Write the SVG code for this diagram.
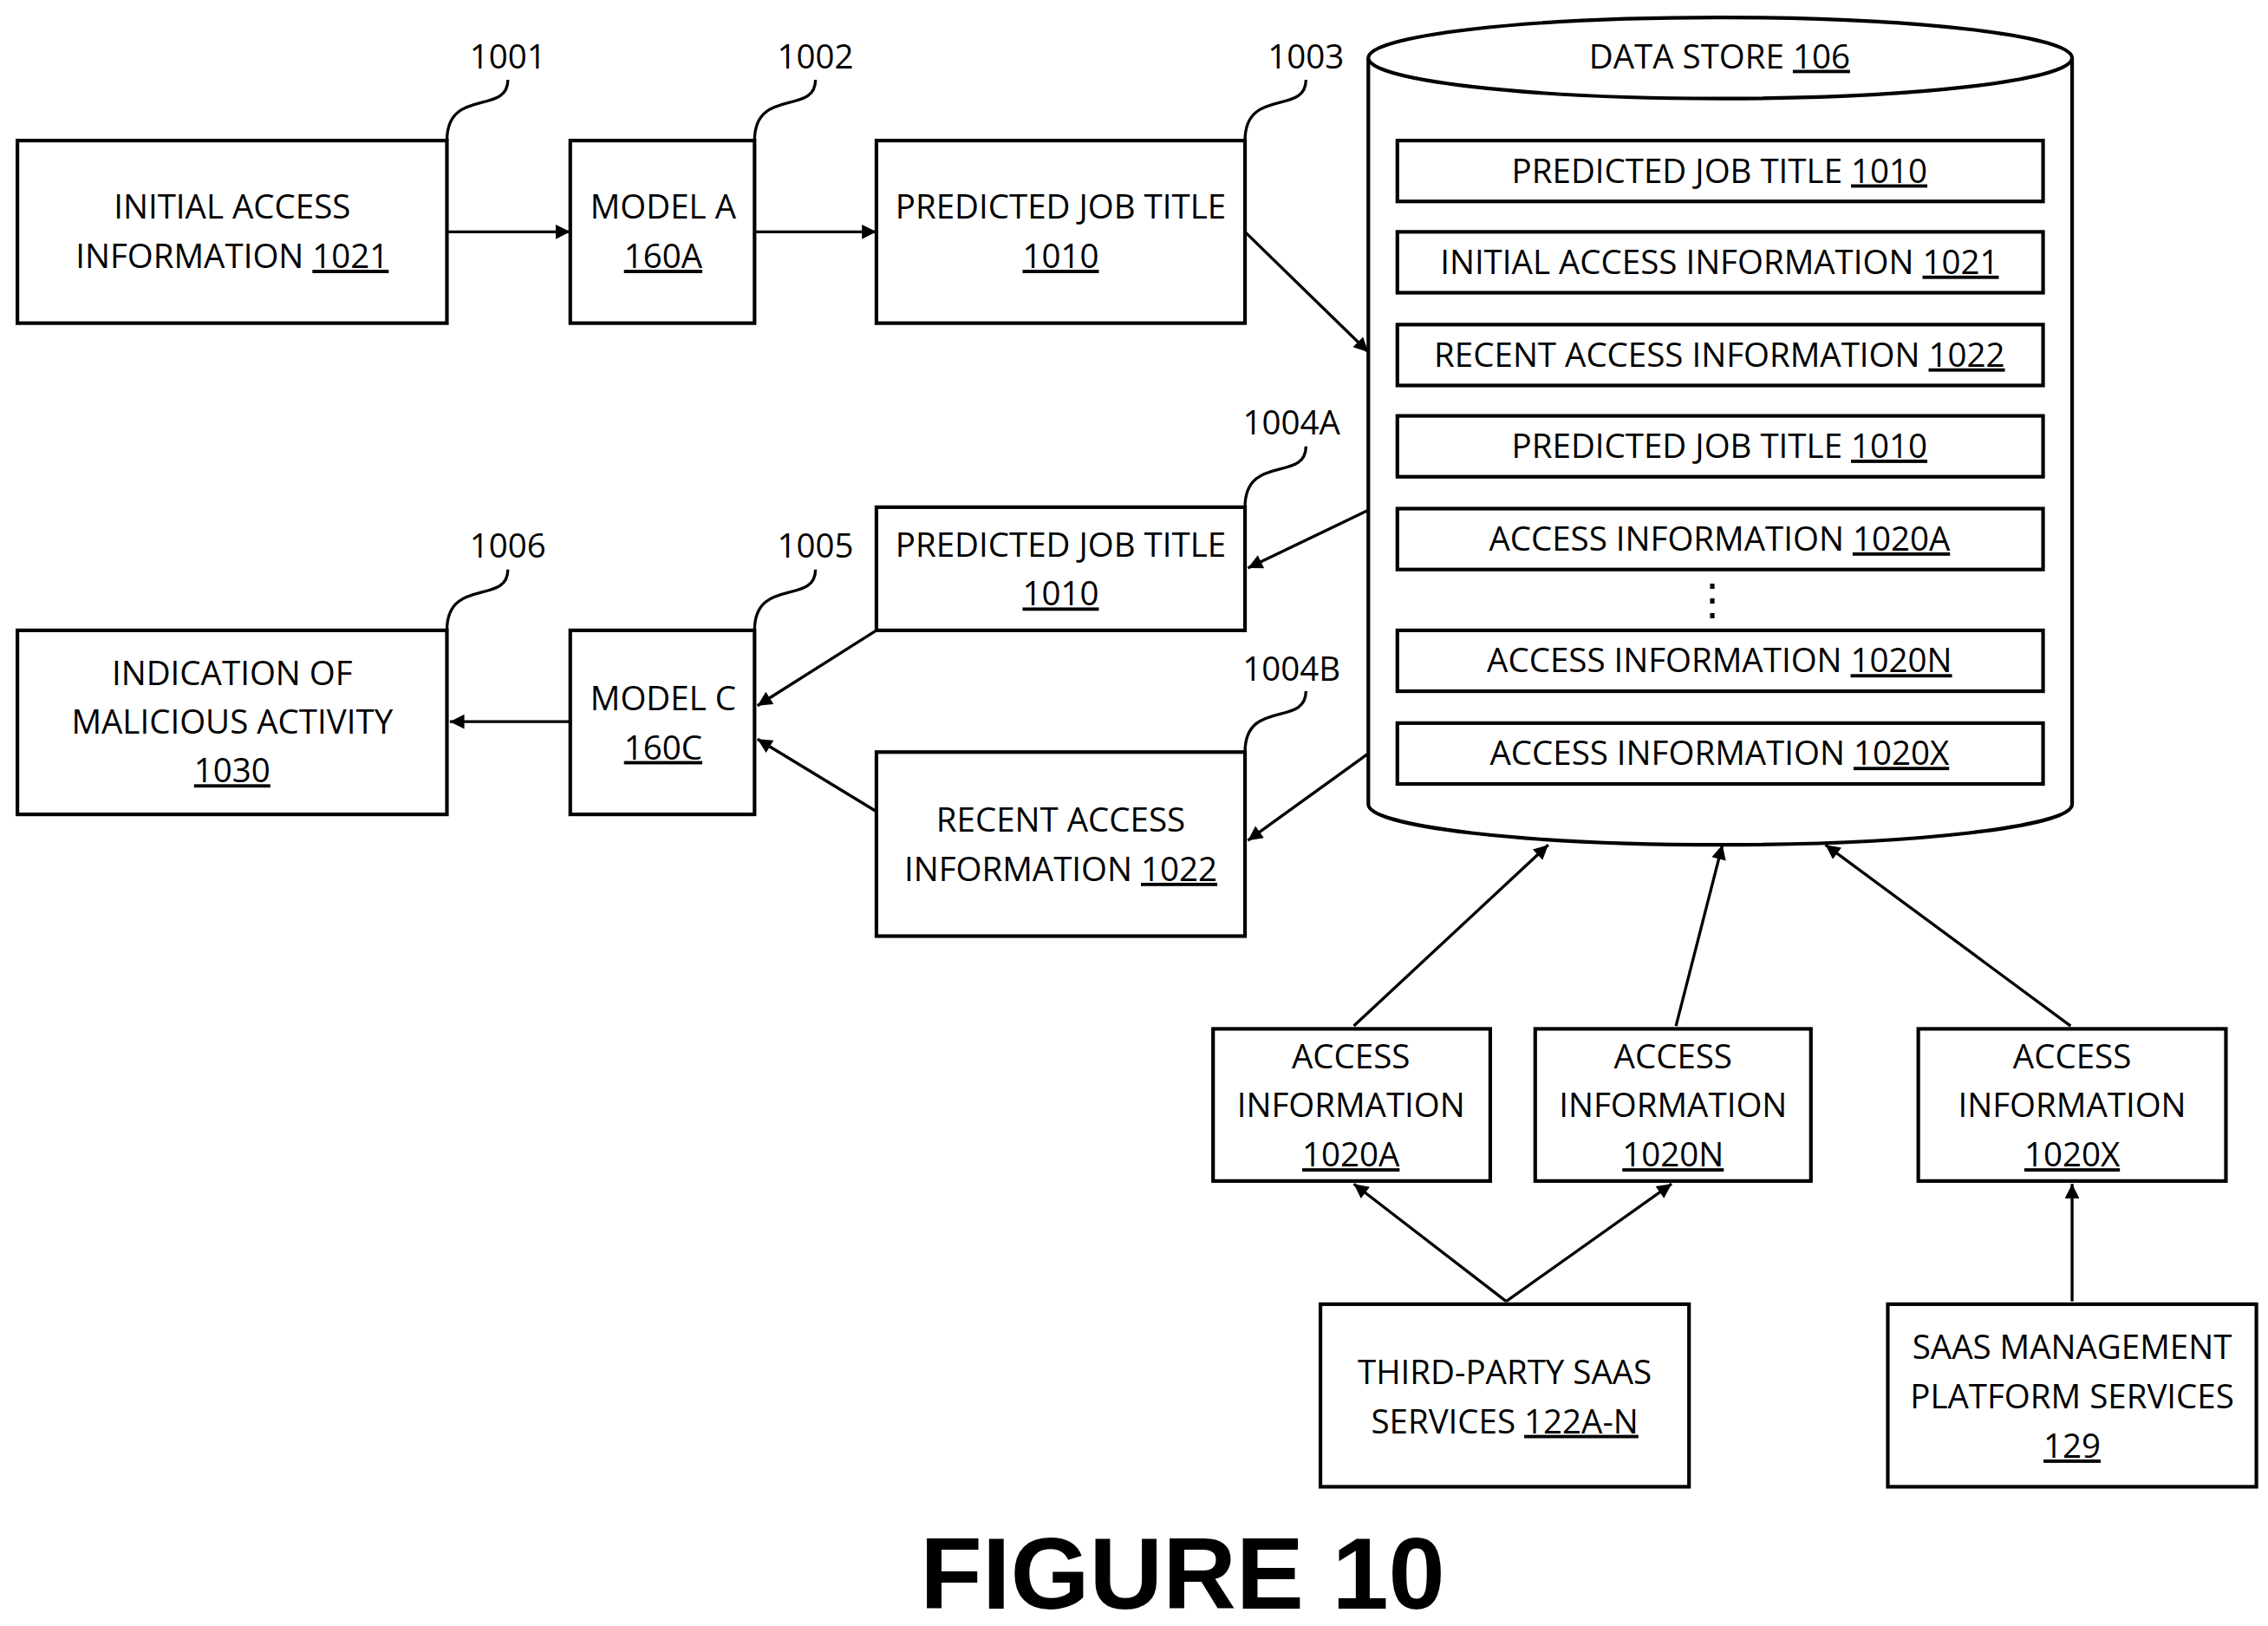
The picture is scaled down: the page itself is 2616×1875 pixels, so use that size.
<svg xmlns="http://www.w3.org/2000/svg" width="2616" height="1875" viewBox="0 0 2616 1875">
<defs>
<marker id="ah" viewBox="0 0 10 10" refX="10" refY="5" markerWidth="12" markerHeight="10" orient="auto" markerUnits="userSpaceOnUse"><path d="M0,0 L10,5 L0,10 z" fill="#000"/></marker>
<style>
rect{fill:#fff;stroke:#000;stroke-width:2.5}
text{font-family:"Open Sans","Liberation Sans",sans-serif;font-size:23px;text-anchor:middle;fill:#000}
.u{text-decoration:underline}
.c{fill:none;stroke:#000;stroke-width:2;marker-end:url(#ah)}
.l{fill:none;stroke:#000;stroke-width:2}
</style>
</defs>
<rect x="0" y="0" width="2616" height="1875" style="fill:#fff;stroke:none"/>
<g transform="scale(1.6737,1.671)">
<g id="store">
<path d="M943,40 L943,555 A242.5,28 0 0 0 1428,555 L1428,40" style="fill:#fff;stroke:#000;stroke-width:2.5"/>
<ellipse cx="1185.5" cy="40" rx="242.5" ry="28" style="fill:#fff;stroke:#000;stroke-width:2.5"/>
<text x="1185" y="47">DATA STORE <tspan class="u">106</tspan></text>
<rect x="963" y="97" width="445" height="42"/><text x="1185" y="126">PREDICTED JOB TITLE <tspan class="u">1010</tspan></text>
<rect x="963" y="160" width="445" height="42"/><text x="1185" y="189">INITIAL ACCESS INFORMATION <tspan class="u">1021</tspan></text>
<rect x="963" y="224" width="445" height="42"/><text x="1185" y="253">RECENT ACCESS INFORMATION <tspan class="u">1022</tspan></text>
<rect x="963" y="287" width="445" height="42"/><text x="1185" y="316">PREDICTED JOB TITLE <tspan class="u">1010</tspan></text>
<rect x="963" y="351" width="445" height="42"/><text x="1185" y="380">ACCESS INFORMATION <tspan class="u">1020A</tspan></text>
<text x="1180" y="424" style="font-size:30px">⋮</text>
<rect x="963" y="435" width="445" height="42"/><text x="1185" y="464">ACCESS INFORMATION <tspan class="u">1020N</tspan></text>
<rect x="963" y="499" width="445" height="42"/><text x="1185" y="528">ACCESS INFORMATION <tspan class="u">1020X</tspan></text>
</g>
<g id="n1021"><rect x="12" y="97" width="296" height="126"/><text x="160" y="151">INITIAL ACCESS</text><text x="160" y="185">INFORMATION <tspan class="u">1021</tspan></text></g>
<g id="modelA"><rect x="393" y="97" width="127" height="126"/><text x="457" y="151">MODEL A</text><text x="457" y="185" class="u">160A</text></g>
<g id="pjt1"><rect x="604" y="97" width="254" height="126"/><text x="731" y="151">PREDICTED JOB TITLE</text><text x="731" y="185" class="u">1010</text></g>
<g id="pjt2"><rect x="604" y="350" width="254" height="85"/><text x="731" y="384">PREDICTED JOB TITLE</text><text x="731" y="418" class="u">1010</text></g>
<g id="recent"><rect x="604" y="519" width="254" height="127"/><text x="731" y="574">RECENT ACCESS</text><text x="731" y="608">INFORMATION <tspan class="u">1022</tspan></text></g>
<g id="modelC"><rect x="393" y="435" width="127" height="127"/><text x="457" y="490">MODEL C</text><text x="457" y="524" class="u">160C</text></g>
<g id="ind"><rect x="12" y="435" width="296" height="127"/><text x="160" y="473">INDICATION OF</text><text x="160" y="506">MALICIOUS ACTIVITY</text><text x="160" y="540" class="u">1030</text></g>
<g id="a1"><rect x="836" y="710" width="191" height="105"/><text x="931" y="737">ACCESS</text><text x="931" y="771">INFORMATION</text><text x="931" y="805" class="u">1020A</text></g>
<g id="a2"><rect x="1058" y="710" width="190" height="105"/><text x="1153" y="737">ACCESS</text><text x="1153" y="771">INFORMATION</text><text x="1153" y="805" class="u">1020N</text></g>
<g id="a3"><rect x="1322" y="710" width="212" height="105"/><text x="1428" y="737">ACCESS</text><text x="1428" y="771">INFORMATION</text><text x="1428" y="805" class="u">1020X</text></g>
<g id="third"><rect x="910" y="900" width="254" height="126"/><text x="1037" y="955">THIRD-PARTY SAAS</text><text x="1037" y="989">SERVICES <tspan class="u">122A-N</tspan></text></g>
<g id="saas"><rect x="1301" y="900" width="254" height="126"/><text x="1428" y="938">SAAS MANAGEMENT</text><text x="1428" y="972">PLATFORM SERVICES</text><text x="1428" y="1006" class="u">129</text></g>
<g id="refs">
<text x="350" y="47">1001</text><path class="l" d="M308,97 C308,60 350,80 350,55"/>
<text x="562" y="47">1002</text><path class="l" d="M520,97 C520,60 562,80 562,55"/>
<text x="900" y="47">1003</text><path class="l" d="M858,97 C858,60 900,80 900,55"/>
<text x="890" y="300">1004A</text><path class="l" d="M858,350 C858,313 900,333 900,308"/>
<text x="890" y="470">1004B</text><path class="l" d="M858,519 C858,482 900,502 900,477"/>
<text x="562" y="385">1005</text><path class="l" d="M520,435 C520,398 562,418 562,393"/>
<text x="350" y="385">1006</text><path class="l" d="M308,435 C308,398 350,418 350,393"/>
</g>
<g id="connectors">
<line class="c" x1="308" y1="160" x2="393" y2="160"/>
<line class="c" x1="520" y1="160" x2="604" y2="160"/>
<line class="c" x1="858" y1="160" x2="943" y2="243"/>
<line class="c" x1="943" y1="352" x2="860" y2="392"/>
<line class="c" x1="604" y1="435" x2="522" y2="487"/>
<line class="c" x1="604" y1="560" x2="522" y2="510"/>
<line class="c" x1="393" y1="498" x2="310" y2="498"/>
<line class="c" x1="943" y1="520" x2="860" y2="580"/>
<line class="c" x1="933" y1="708" x2="1067" y2="583"/>
<line class="c" x1="1155" y1="708" x2="1187" y2="583"/>
<line class="c" x1="1427" y1="708" x2="1258" y2="583"/>
<line class="c" x1="1038" y1="898" x2="933" y2="817"/>
<line class="c" x1="1038" y1="898" x2="1152" y2="817"/>
<line class="c" x1="1428" y1="898" x2="1428" y2="817"/>
</g>
<text x="815" y="1110" style="font-family:'Liberation Sans',Arial,sans-serif;font-size:70px;font-weight:bold">FIGURE 10</text>
</g>
</svg>
